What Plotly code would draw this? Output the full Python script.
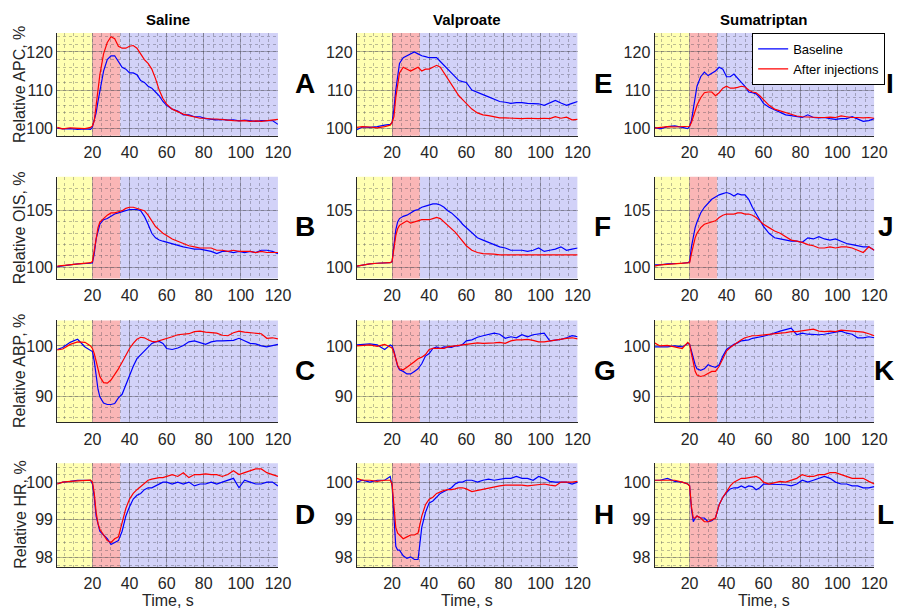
import plotly.graph_objects as go

# ---------------- data ----------------
T = [1, 4, 8, 12, 16, 19, 20, 21, 22, 23, 24, 26, 28, 30, 32, 34, 36, 38, 40, 42,
     44, 46, 48, 50, 52, 54, 56, 58, 60, 63, 66, 69, 72, 75, 78, 81, 84, 87, 90,
     93, 96, 99, 102, 105, 108, 111, 114, 117, 120]

COLUMNS = ["Saline", "Valproate", "Sumatriptan"]
Y_TITLES = ["Relative APC, %", "Relative OIS, %", "Relative ABP, %", "Relative HR, %"]
LETTERS = ["A", "B", "C", "D", "E", "F", "G", "H", "I", "J", "K", "L"]
X_TICKS = [20, 40, 60, 80, 100, 120]
Y_TICKS = [[100, 110, 120], [100, 105], [90, 100], [98, 99, 100]]
Y_RANGES = [[98, 125], [99, 108], [85, 105], [97.75, 100.5]]
Y_MINOR = [2, 1, 2, 0.2]
PHASES = [(1, 20), (20, 35), (35, 120)]
SERIES = ["Baseline", "After injections"]

# APC
APC_SAL_BASE = [100.0, 99.8, 99.9, 99.7, 99.8, 99.7, 100.3, 102, 104, 107, 110, 115, 118, 119, 119, 117.5, 116, 115.5, 114.5, 114.5,
                114, 112.5, 112, 111, 110.5, 109.5, 108.5, 107, 106, 105, 104.5, 103.5, 103.5, 103, 103, 102.5, 102.3, 102.2, 102.3,
                102.1, 102.2, 101.9, 102.1, 102, 101.8, 102, 102, 102, 101]
APC_SAL_INJ = [100.2, 99.8, 100.1, 100.0, 99.9, 100.2, 100.6, 102, 106, 110, 114, 119.5, 122.5, 124, 123.5, 121.5, 121, 121, 121.5, 121.7,
               121, 119.5, 118, 117, 115.5, 113, 110, 107.8, 106.3, 105, 104.3, 103.7, 103.3, 103, 102.6, 102.6, 102.4, 102.4, 102.2,
               102.1, 102, 101.9, 102, 101.8, 101.9, 101.8, 102, 102.1, 102.3]
APC_VAL_BASE = [99.6, 100.3, 100.2, 100.4, 100.8, 101, 101.5, 105, 110, 114, 117, 118.5, 119, 119.5, 120, 119.5, 119, 118.8, 118.5, 118.5,
                118.5, 117.5, 116.5, 115.5, 114.5, 113.5, 112.5, 112.2, 112, 110, 109.5, 108.8, 108.2, 107.5, 107, 106.8, 106.5, 106.7, 106.7,
                106.5, 106.5, 106.4, 106, 106.6, 107.3, 106.6, 106, 106.5, 107]
APC_VAL_INJ = [100.2, 100.4, 100.3, 100.1, 100.4, 100.8, 101.5, 103, 108, 112, 114.5, 116, 115.5, 115, 115.5, 116, 115, 115.5, 115.5, 116,
               116.5, 116, 114.5, 113, 111.5, 110, 108.5, 107.5, 106.5, 105, 104, 103.5, 103.3, 103, 102.7, 102.7, 102.6, 102.5, 102.5,
               102.6, 102.5, 102.5, 102.6, 102.5, 103, 102.6, 102.9, 102.2, 102.3]
APC_SUM_BASE = [100.2, 99.8, 100.4, 100.6, 100.2, 99.9, 100.5, 102, 105, 108, 111, 113.5, 114.7, 113.8, 114.5, 115, 116, 115.5, 113.5, 113.5,
                114.2, 113, 112, 111, 109.5, 109.3, 109, 108, 106.5, 105.5, 104.8, 104, 103.5, 103.3, 103, 102.8, 103.5, 102.8, 102.7,
                102.8, 102.5, 102.3, 102.5, 102.5, 103, 102.3, 101.8, 102, 102.5]
APC_SUM_INJ = [100.0, 100.2, 100.4, 100.3, 100.4, 100.3, 100.5, 101.5, 103, 104.5, 106, 108, 109.3, 109.5, 109.5, 108.5, 109.3, 110.5, 111, 110.5,
               110.5, 110.7, 111, 110.8, 110, 109.5, 109.3, 108.5, 107.5, 106, 105, 104.5, 104, 103.5, 103.2, 103, 102.9, 102.8, 102.8,
               102.8, 102.9, 102.8, 103.2, 103, 102.8, 102.8, 102.7, 102.8, 102.6]

# OIS
OIS_SAL_BASE = [100.05, 100.1, 100.2, 100.3, 100.3, 100.35, 100.4, 101.2, 102.5, 103.3, 103.8, 104.2, 104.3, 104.5, 104.7, 104.8, 104.9, 105, 105.1, 105.1,
                105.1, 105, 104.5, 103.8, 103, 102.6, 102.4, 102.3, 102.2, 102.1, 101.9, 101.8, 101.7, 101.6, 101.6, 101.5, 101.4, 101.2, 101.4,
                101.4, 101.3, 101.4, 101.3, 101.4, 101.3, 101.5, 101.5, 101.4, 101.2]
OIS_SAL_INJ = [100.1, 100.15, 100.25, 100.3, 100.35, 100.4, 100.5, 101.5, 102.8, 103.5, 104, 104.3, 104.6, 104.8, 104.8, 104.9, 105, 105.2, 105.3, 105.3,
               105.2, 105.1, 105, 104.6, 104.1, 103.6, 103.3, 103, 102.8, 102.5, 102.3, 102.1, 101.9, 101.8, 101.7, 101.7, 101.7, 101.5, 101.5,
               101.4, 101.5, 101.4, 101.4, 101.4, 101.3, 101.4, 101.3, 101.3, 101.3]
OIS_VAL_BASE = [100.1, 100.2, 100.3, 100.35, 100.4, 100.4, 100.5, 102, 103.3, 104, 104.3, 104.5, 104.6, 104.8, 105, 105.1, 105.3, 105.4, 105.5, 105.6,
                105.6, 105.5, 105.3, 105, 104.8, 104.5, 104.2, 103.8, 103.5, 103, 102.6, 102.4, 102.2, 102, 101.8, 101.7, 101.5, 101.5, 101.5,
                101.4, 101.5, 101.7, 101.4, 101.5, 101.6, 101.8, 101.5, 101.6, 101.7]
OIS_VAL_INJ = [100.1, 100.2, 100.3, 100.35, 100.4, 100.4, 100.5, 101.6, 102.8, 103.4, 103.7, 103.9, 104.1, 103.9, 104, 104.1, 104.2, 104.2, 104.2, 104.3,
               104.4, 104.3, 104, 103.7, 103.4, 103.1, 102.7, 102.3, 101.9, 101.5, 101.3, 101.2, 101.2, 101.15, 101.1, 101.1, 101.1, 101.1, 101.1,
               101.1, 101.1, 101.1, 101.1, 101.1, 101.1, 101.1, 101.1, 101.1, 101.1]
OIS_SUM_BASE = [100.2, 100.2, 100.3, 100.3, 100.35, 100.4, 100.5, 101.8, 102.8, 103.5, 104, 104.8, 105.3, 105.7, 106, 106.2, 106.4, 106.5, 106.6, 106.5,
                106.3, 106.5, 106.4, 106.4, 106, 105.3, 104.7, 104.1, 103.6, 103, 102.6, 102.5, 102.4, 102.3, 102.3, 102.2, 102.6, 102.5, 102.7,
                102.5, 102.4, 102.5, 102.3, 102.1, 102, 101.9, 101.8, 101.8, 101.5]
OIS_SUM_INJ = [100.1, 100.2, 100.25, 100.3, 100.3, 100.4, 100.4, 101.2, 102, 102.6, 103, 103.5, 103.8, 103.9, 104, 104.1, 104.4, 104.6, 104.7, 104.7,
               104.7, 104.8, 104.8, 104.7, 104.7, 104.6, 104.4, 104.1, 103.8, 103.5, 103.2, 103, 102.7, 102.4, 102.3, 102.2, 102, 101.9, 101.7,
               101.7, 101.8, 101.7, 101.8, 101.8, 101.7, 101.5, 101.3, 101.8, 101.5]

# ABP
ABP_SAL_BASE = [99.3, 99.7, 100.7, 101.3, 99.8, 99.2, 98.9, 97, 94, 91.5, 90, 88.8, 88.5, 88.5, 88.7, 89.8, 90.5, 92.3, 94.3, 96,
                97.5, 98.3, 99, 99.8, 100.5, 100.8, 100.9, 100.5, 99.5, 99.3, 99.6, 100.1, 100.8, 101, 100.6, 100.3, 100.8, 101, 101,
                101.1, 101.1, 101.5, 101, 100.5, 100.4, 100, 99.8, 100.1, 100.3]
ABP_SAL_INJ = [99.2, 99.4, 100.3, 100.8, 100.7, 100, 99.5, 98.5, 97, 95.5, 94, 92.8, 92.7, 93.3, 94.3, 95.5, 96.8, 98.3, 99.5, 100.5,
               101.3, 101.7, 101.6, 101.2, 100.9, 100.8, 101, 101.3, 101.5, 101.8, 102.2, 102.3, 102.4, 102.8, 102.9, 102.7, 102.6, 102.5, 102.1,
               102, 102.6, 102.9, 102.7, 102.6, 102.6, 102.4, 101.5, 101.6, 101.4]
ABP_VAL_BASE = [100.2, 100.3, 100.4, 100.2, 99.3, 100.2, 100, 99, 97.5, 96, 95.3, 95, 94.5, 94.5, 95, 95.5, 96.5, 98, 98.5, 99.5,
                99.8, 99.5, 99.8, 99.8, 99.7, 100, 100, 100.3, 101, 101.2, 101.7, 102, 102.3, 102.5, 102.3, 101.5, 101.8, 101.6, 102.2,
                101.8, 102.2, 102.4, 102.5, 101, 101.1, 101.3, 101.6, 102, 101.8]
ABP_VAL_INJ = [100, 100.1, 100.2, 99.9, 100.3, 99.8, 99.6, 98.7, 97.3, 96.2, 95.5, 95.3, 95.8, 96.3, 96.9, 97.5, 97.8, 98.3, 99.3, 99.5,
               99.5, 99.6, 99.5, 99.8, 99.9, 99.9, 100, 100.2, 100.2, 100.4, 100.6, 100.5, 100.5, 100.6, 100.7, 100.5, 101, 101.2, 101.2,
               101.3, 101.1, 100.8, 100.8, 101, 101.2, 101.3, 101.5, 101.6, 101.4]
ABP_SUM_BASE = [99.8, 99.8, 99.8, 100, 99.8, 100.5, 100.3, 99, 97.5, 96.3, 95.5, 95.2, 95.5, 96.3, 96, 95.8, 96.3, 98, 99.3, 99.8,
                100.3, 100.6, 101, 101.1, 101.2, 101.5, 101.6, 101.7, 101.9, 102.2, 102.6, 102.9, 103.2, 103.5, 102.2, 102.5, 102.3, 102.2, 102.2,
                102.3, 102.5, 102.6, 102.9, 102.5, 102.3, 101.6, 101.6, 101.8, 101.6]
ABP_SUM_INJ = [100.6, 100, 100.1, 99.8, 99.5, 100.7, 100.3, 98.5, 96.5, 95, 94.3, 94, 94.2, 94.6, 95, 95, 96, 97.5, 99, 99.7,
               100.2, 100.8, 101.2, 101.6, 101.8, 102, 102, 102.1, 102.1, 102.3, 102.4, 102.5, 102.6, 102.8, 102.8, 103, 103.2, 103.3, 102.9,
               102.8, 102.9, 102.8, 103.1, 103, 102.8, 102.7, 102.7, 102.4, 102]

# HR
HR_SAL_BASE = [99.95, 100, 100.02, 100.05, 100.05, 100.05, 99.95, 99.6, 99.1, 98.85, 98.7, 98.6, 98.5, 98.35, 98.4, 98.45, 98.7, 99.1, 99.35, 99.55,
               99.65, 99.7, 99.8, 99.85, 99.85, 99.9, 99.95, 100, 100, 99.95, 100, 99.95, 100, 99.9, 99.95, 99.95, 100, 99.95, 100,
               100.05, 100.1, 99.85, 100.05, 100, 99.95, 99.95, 100, 100, 99.9]
HR_SAL_INJ = [99.95, 100, 100.02, 100.03, 100.05, 100.05, 100, 99.7, 99.2, 98.9, 98.75, 98.6, 98.45, 98.4, 98.5, 98.55, 98.9, 99.3, 99.55, 99.7,
              99.8, 99.88, 99.98, 100.05, 100.08, 100.1, 100.12, 100.12, 100.15, 100.2, 100.15, 100.25, 100.12, 100.2, 100.2, 100.22, 100.2, 100.2, 100.15,
              100.2, 100.3, 100.2, 100.25, 100.3, 100.35, 100.35, 100.25, 100.2, 100.15]
HR_VAL_BASE = [100, 100.05, 100, 100.05, 100.05, 100.15, 99.9, 99, 98.3, 98.2, 98.2, 98.05, 97.98, 98.02, 97.95, 97.95, 98.8, 99.2, 99.45, 99.5,
               99.6, 99.7, 99.75, 99.8, 99.85, 99.95, 100, 100, 100.05, 100.05, 100, 100.05, 100.08, 100.05, 100.08, 100.1, 100.1, 100.15, 100.1,
               100.1, 100.05, 100.15, 100.1, 100.02, 100, 100, 100, 99.95, 100]
HR_VAL_INJ = [100.1, 100.05, 100.05, 100.02, 100.05, 100.05, 99.95, 99.3, 98.8, 98.65, 98.6, 98.5, 98.55, 98.6, 98.6, 98.65, 99.1, 99.4, 99.55, 99.6,
              99.7, 99.75, 99.78, 99.8, 99.8, 99.82, 99.85, 99.85, 99.82, 99.75, 99.78, 99.8, 99.85, 99.88, 99.9, 99.92, 99.92, 99.93, 99.92,
              99.9, 99.92, 99.95, 99.95, 99.92, 99.9, 100, 100, 100, 100.02]
HR_SUM_BASE = [100.05, 100.05, 100.1, 100.02, 100, 99.95, 99.9, 99.3, 98.95, 99.05, 99.1, 99.05, 99.05, 98.95, 98.98, 99.05, 99.4, 99.6, 99.72, 99.82,
               99.85, 99.85, 99.9, 99.85, 99.9, 99.88, 99.8, 99.85, 99.95, 99.95, 99.95, 99.95, 99.93, 99.9, 99.95, 100.05, 100, 100.05, 100.1,
               100.15, 100.1, 100, 99.95, 99.95, 99.9, 99.9, 99.85, 99.85, 99.88]
HR_SUM_INJ = [100.05, 100.05, 100.05, 100.05, 100, 99.95, 99.9, 99.35, 99.05, 99.05, 99.1, 99.05, 98.95, 98.95, 99, 99.05, 99.4, 99.6, 99.75, 99.9,
              100, 100.05, 100.1, 100.1, 100.12, 100.15, 100.15, 100.1, 100, 99.95, 99.98, 100.02, 100, 100.05, 100.1, 100.2, 100.15, 100.15, 100.2,
              100.2, 100.25, 100.25, 100.2, 100.15, 100.1, 100.1, 100.1, 100.02, 99.95]

PANEL_DATA = [
    [(APC_SAL_BASE, APC_SAL_INJ), (OIS_SAL_BASE, OIS_SAL_INJ), (ABP_SAL_BASE, ABP_SAL_INJ), (HR_SAL_BASE, HR_SAL_INJ)],
    [(APC_VAL_BASE, APC_VAL_INJ), (OIS_VAL_BASE, OIS_VAL_INJ), (ABP_VAL_BASE, ABP_VAL_INJ), (HR_VAL_BASE, HR_VAL_INJ)],
    [(APC_SUM_BASE, APC_SUM_INJ), (OIS_SUM_BASE, OIS_SUM_INJ), (ABP_SUM_BASE, ABP_SUM_INJ), (HR_SUM_BASE, HR_SUM_INJ)],
]
for col in PANEL_DATA:
    for b, i in col:
        assert len(b) == len(T) and len(i) == len(T), (len(b), len(i), len(T))

# ---------------- layout / style ----------------
W, H = 909, 609
XPX = [(58, 282), (362, 586), (664, 887)]
YPX = [(33, 136), (177, 279), (321, 423), (464, 568)]
FONT = "Liberation Sans, Arial, Helvetica, sans-serif"
TXT = "rgb(38,38,38)"
LINE_COLORS = ["rgb(0,0,255)", "rgb(255,0,0)"]
PHASE_COLORS = ["rgb(255,255,178)", "rgb(250,182,182)", "rgb(210,210,248)"]
GRID = "rgba(70,70,80,0.38)"
MINOR_GRID = "rgba(70,70,80,0.35)"

fig = go.Figure()
layout = {}
shapes = []
annotations = []

for c in range(3):
    for r in range(4):
        k = c * 4 + r + 1
        sfx = "" if k == 1 else str(k)
        xref, yref = "x" + sfx, "y" + sfx
        base, inj = PANEL_DATA[c][r]
        for s, (vals, color) in enumerate(zip((base, inj), LINE_COLORS)):
            fig.add_trace(go.Scatter(
                x=T, y=vals, mode="lines", name=SERIES[s],
                line=dict(color=color, width=1.2),
                xaxis=xref, yaxis=yref,
                showlegend=(k == 9), legendgroup=SERIES[s], hoverinfo="skip"))
        x0, x1 = XPX[c]
        y0, y1 = YPX[r]
        layout["xaxis" + sfx] = dict(
            domain=[x0 / W, x1 / W], range=[1, 120], anchor=yref,
            tickvals=X_TICKS, showgrid=True, gridcolor=GRID, gridwidth=1,
            minor=dict(dtick=5, tick0=0, showgrid=True, gridcolor=MINOR_GRID, griddash="dot", gridwidth=1),
            showline=True, linecolor="rgb(40,40,40)", linewidth=1, zeroline=False,
            ticks="", tickfont=dict(family=FONT, size=16, color=TXT), ticklabelstandoff=2)
        layout["yaxis" + sfx] = dict(
            domain=[1 - y1 / H, 1 - y0 / H], range=Y_RANGES[r], anchor=xref,
            tickvals=Y_TICKS[r], showgrid=True, gridcolor=GRID, gridwidth=1,
            minor=dict(dtick=Y_MINOR[r], tick0=0, showgrid=True, gridcolor=MINOR_GRID, griddash="dot", gridwidth=1),
            showline=True, linecolor="rgb(40,40,40)", linewidth=1, zeroline=False,
            ticks="", tickfont=dict(family=FONT, size=16, color=TXT))
        for (p0, p1), pc in zip(PHASES, PHASE_COLORS):
            shapes.append(dict(type="rect", xref=xref, yref=yref + " domain",
                               x0=p0, x1=p1, y0=0, y1=1, fillcolor=pc,
                               line=dict(width=0), layer="below"))
        if c < 2:
            lx, lanchor = (x1 + 15) / W, "left"
        else:
            lx, lanchor = 1.0, "right"
        annotations.append(dict(text="<b>" + LETTERS[k - 1] + "</b>", xref="paper", yref="paper",
                                x=lx, y=1 - ((y0 + y1) / 2 - 1) / H, xanchor=lanchor, yanchor="middle",
                                showarrow=False, font=dict(family=FONT, size=28, color="black")))

for c, name in enumerate(COLUMNS):
    x0, x1 = XPX[c]
    annotations.append(dict(text="<b>" + name + "</b>", xref="paper", yref="paper",
                            x=(x0 + x1) / 2 / W, y=1 - 20 / H, xanchor="center", yanchor="middle",
                            showarrow=False, font=dict(family=FONT, size=15, color="black")))
    annotations.append(dict(text="Time, s", xref="paper", yref="paper",
                            x=(x0 + x1) / 2 / W, y=1 - 601 / H, xanchor="center", yanchor="middle",
                            showarrow=False, font=dict(family=FONT, size=16, color=TXT)))

for r, name in enumerate(Y_TITLES):
    y0, y1 = YPX[r]
    annotations.append(dict(text=name, xref="paper", yref="paper",
                            x=20 / W, y=1 - (y0 + y1) / 2 / H, xanchor="center", yanchor="middle",
                            textangle=-90, showarrow=False, font=dict(family=FONT, size=16, color=TXT)))

fig.update_layout(
    width=W, height=H, margin=dict(l=0, r=0, t=0, b=0),
    paper_bgcolor="white", plot_bgcolor="white",
    shapes=shapes, annotations=annotations,
    legend=dict(x=898 / W, y=1 - 33 / H, xanchor="right", yanchor="top",
                bgcolor="white", bordercolor="black", borderwidth=1,
                font=dict(family=FONT, size=13, color="black"),
                tracegroupgap=0, itemwidth=30),
    **layout)

fig.write_html("out.html")
